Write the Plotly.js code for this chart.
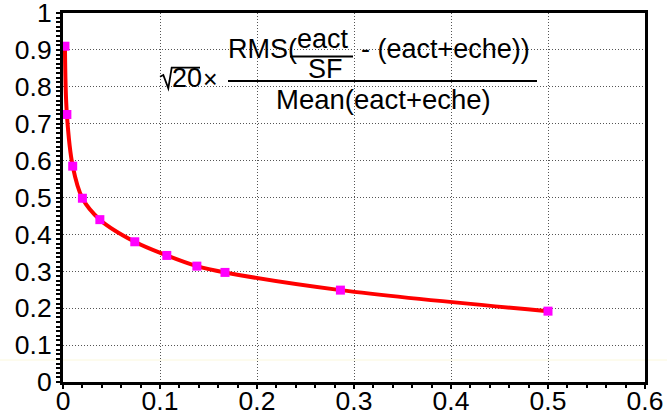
<!DOCTYPE html>
<html>
<head>
<meta charset="utf-8">
<script src="https://cdn.plot.ly/plotly-3.0.1.min.js"></script>
<style>
html,body{margin:0;padding:0;background:#ffffff;}
#chart{width:667px;height:417px;}
</style>
</head>
<body>
<div id="chart"></div>
<script>
// ---- data ----
const xValues = [0.002, 0.004, 0.01, 0.02, 0.038, 0.074, 0.107, 0.138, 0.167, 0.286, 0.5];
const yValues = [0.91, 0.725, 0.585, 0.498, 0.44, 0.38, 0.343, 0.314, 0.297, 0.249, 0.192];
const xTickVals = [0, 0.1, 0.2, 0.3, 0.4, 0.5, 0.6];
const xTickText = ['0', '0.1', '0.2', '0.3', '0.4', '0.5', '0.6'];
const yTickVals = [0, 0.1, 0.2, 0.3, 0.4, 0.5, 0.6, 0.7, 0.8, 0.9, 1];
const yTickText = ['0', '0.1', '0.2', '0.3', '0.4', '0.5', '0.6', '0.7', '0.8', '0.9', '1'];
const formulaNumLeft = 'RMS(';
const formulaInnerTop = 'eact';
const formulaInnerBottom = 'SF';
const formulaNumRight = '- (eact+eche))';
const formulaDenominator = 'Mean(eact+eche)';
const formulaRoot = '20';
const formulaTimes = '×';

// ---- geometry (pixels -> paper) ----
const L = 63, T = 13, W = 582, H = 369;
function px(x) { return (x - L) / W; }
function py(y) { return (T + H - y) / H; }

const FONT = 'Liberation Sans, Arial, Helvetica, sans-serif';
function ann(text, x, y, size, xanchor) {
  return {
    text: text, xref: 'paper', yref: 'paper', x: px(x), y: py(y),
    xanchor: xanchor || 'center', yanchor: 'middle', showarrow: false,
    font: {family: FONT, size: size, color: '#000000'}
  };
}

const trace = {
  x: xValues, y: yValues, type: 'scatter', mode: 'lines+markers',
  line: {color: '#ff0000', width: 4, shape: 'spline', smoothing: 1},
  marker: {symbol: 'square', size: 9, color: '#ff00ff', line: {width: 0}},
  hoverinfo: 'none', cliponaxis: false
};

const axisCommon = {
  tickmode: 'array', ticks: 'outside', ticklen: 4, tickwidth: 2, tickcolor: '#000000',
  showline: true, linecolor: '#000000', linewidth: 3, mirror: true,
  showgrid: true, gridcolor: '#555555', gridwidth: 1, griddash: '1px,2px',
  zeroline: false, fixedrange: true, ticklabeloverflow: 'allow',
  tickfont: {family: FONT, size: 26.5, color: '#000000'}
};

const layout = {
  width: 667, height: 417,
  margin: {l: L, r: 667 - L - W, t: T, b: 417 - T - H, pad: 0},
  paper_bgcolor: '#ffffff', plot_bgcolor: '#ffffff',
  showlegend: false,
  xaxis: Object.assign({}, axisCommon, {
    range: [0, 0.6], tickvals: xTickVals, ticktext: xTickText,
    ticklabelstandoff: -11,
    minor: {tickmode: 'linear', tick0: 0, dtick: 0.02, ticks: 'outside', ticklen: 3, tickwidth: 2, tickcolor: '#000000', showgrid: false}
  }),
  yaxis: Object.assign({}, axisCommon, {
    range: [0, 1], tickvals: yTickVals, ticktext: yTickText,
    ticklabelstandoff: -1,
    minor: {tickmode: 'linear', tick0: 0, dtick: 0.0125, ticks: 'outside', ticklen: 4, tickwidth: 2, tickcolor: '#000000', showgrid: false}
  }),
  annotations: [
    ann(formulaNumLeft, 226, 49, 27, 'left'),
    ann(formulaInnerTop, 323, 39, 27),
    ann(formulaInnerBottom, 325.5, 69, 27),
    ann(formulaNumRight, 359, 49, 27, 'left'),
    ann(formulaDenominator, 383, 99, 27.5),
    ann(formulaRoot, 186.5, 78, 27),
    ann(formulaTimes, 210, 79, 25)
  ],
  shapes: [
    {type: 'line', xref: 'paper', yref: 'paper', x0: px(228), x1: px(537), y0: py(81), y1: py(81), line: {color: '#000000', width: 2}},
    {type: 'line', xref: 'paper', yref: 'paper', x0: px(290), x1: px(353), y0: py(56.5), y1: py(56.5), line: {color: '#000000', width: 2}},
    {type: 'path', xref: 'paper', yref: 'paper',
     path: 'M' + px(160) + ',' + py(76.7) + ' L' + px(163.3) + ',' + py(75) + ' L' + px(168.3) + ',' + py(88.3) +
           ' L' + px(171.7) + ',' + py(67.7) + ' L' + px(200) + ',' + py(67.7),
     line: {color: '#000000', width: 1.8}},
    {type: 'line', xref: 'paper', yref: 'paper', x0: -0.2, x1: 1.1, y0: py(360), y1: py(360), line: {color: '#fbf8dc', width: 1}, layer: 'below'}
  ]
};

Plotly.newPlot('chart', [trace], layout, {displayModeBar: false, staticPlot: true});
</script>
</body>
</html>
